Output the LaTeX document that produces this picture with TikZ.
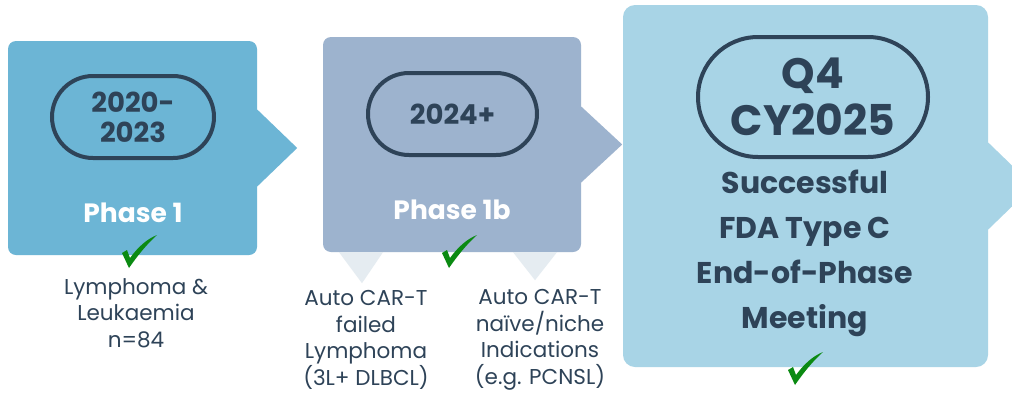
\documentclass[tikz,border=0pt]{standalone}
\usepackage{fontspec}
\setmainfont{Poppins}
\definecolor{boxA}{HTML}{6CB5D5}
\definecolor{boxB}{HTML}{9DB3CE}
\definecolor{boxC}{HTML}{A8D4E6}
\definecolor{tri}{HTML}{E5ECF1}
\definecolor{ink}{HTML}{2E4358}
\definecolor{okgreen}{HTML}{0B8A12}
\begin{document}
\begin{tikzpicture}[x=1pt,y=-1pt,
  phasebox/.style={draw=none, inner sep=0pt},
  pill/.style={draw=ink, line width=4pt, rounded corners=#1, inner sep=0pt},
  pilltext/.style={text=ink, font=\bfseries, align=center, inner sep=0pt},
  phasetext/.style={text=white, font=\bfseries\fontsize{26.5}{30}\selectfont, inner sep=0pt},
  note/.style={text=ink, align=center, font=\fontsize{21.5}{26.5}\selectfont, inner sep=0pt},
  pics/greencheck/.style={code={\fill[okgreen] (0,18) -- (5,15) -- (8,23) .. controls (16,12) and (25,4) .. (35,0) .. controls (25,9) and (16,20) .. (7,33) -- cycle;}}
]
\clip (0,0) rectangle (1012,394);
\useasboundingbox (0,0) rectangle (1012,394);
\fill[white] (0,0) rectangle (1012,394);

% Box 1
\node[phasebox, fill=boxA, rounded corners=8pt, minimum width=249pt, minimum height=214pt] (b1) at (132.5,148) {};
\fill[boxA] ([yshift=38.5pt]b1.east) -- ([xshift=40pt]b1.east) -- ([yshift=-38.5pt]b1.east) -- cycle;
\node[pill=41pt, minimum width=162pt, minimum height=82pt] (y1) at (133,117) {};
\node[pilltext, font=\bfseries\fontsize{27.5}{30}\selectfont] (y1t) at (y1) {2020-\\2023};
\node[phasetext] (p1) at (133,213) {Phase 1};
\pic at (122,235) {greencheck};
\node[note] (n1) at (136,313) {Lymphoma \&\\Leukaemia\\n=84};

% Box 2
\node[phasebox, fill=boxB, rounded corners=8pt, minimum width=258pt, minimum height=215pt] (b2) at (452,144.5) {};
\fill[boxB] ([yshift=38pt]b2.east) -- ([xshift=41pt]b2.east) -- ([yshift=-38pt]b2.east) -- cycle;
\fill[tri] ([xshift=-113pt]b2.south) -- ([xshift=-69pt]b2.south) -- ([xshift=-90pt,yshift=-31pt]b2.south) -- cycle;
\fill[tri] ([xshift=61pt]b2.south) -- ([xshift=105pt]b2.south) -- ([xshift=83pt,yshift=-28pt]b2.south) -- cycle;
\node[pill=41pt, minimum width=169pt, minimum height=82pt] (y2) at (452.5,114) {};
\node[pilltext, font=\bfseries\fontsize{27.5}{30}\selectfont] (y2t) at (y2) {2024+};
\node[phasetext] (p2) at (452,210) {Phase 1b};
\pic at (442,235) {greencheck};
\node[note] (n2a) at (366,340) {Auto CAR-T\\failed\\Lymphoma\\(3L+ DLBCL)};
\node[note] (n2b) at (540,340) {Auto CAR-T\\naïve/niche\\Indications\\(e.g. PCNSL)};

% Box 3
\node[phasebox, fill=boxC, rounded corners=12pt, minimum width=365pt, minimum height=362pt] (b3) at (805.5,186) {};
\fill[boxC] ([yshift=43.5pt]b3.east) -- ([xshift=45pt]b3.east) -- ([yshift=-43.5pt]b3.east) -- cycle;
\node[pill=60pt, minimum width=230pt, minimum height=120pt] (y3) at (813,97) {};
\node[pilltext, font=\bfseries\fontsize{42.5}{47}\selectfont] (y3t) at (813,96.5) {Q4\\CY2025};
\node[pilltext, font=\bfseries\fontsize{30}{45}\selectfont] (m3) at (805,253) {Successful\\FDA Type C\\End-of-Phase\\Meeting};
\pic at (788,352) {greencheck};
\end{tikzpicture}
\end{document}
